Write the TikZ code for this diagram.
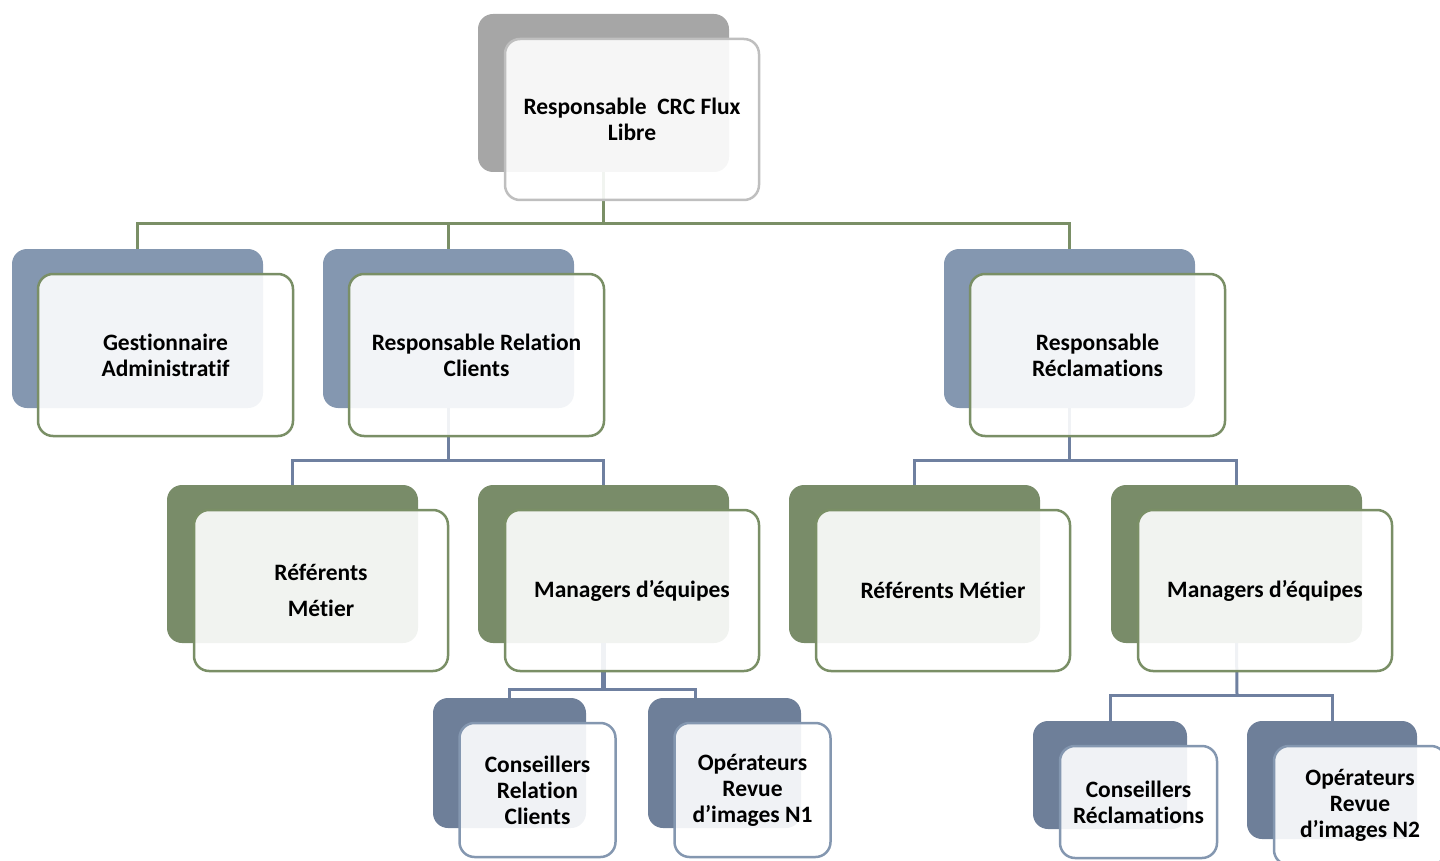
\documentclass[tikz,border=0pt]{standalone}
\usepackage{fontspec}
\setmainfont[Ligatures=NoCommon]{Carlito}
\definecolor{cTop}{HTML}{A6A6A6}
\definecolor{cTopB}{HTML}{BFBFBF}
\definecolor{cL1}{HTML}{8497B0}
\definecolor{cGreen}{HTML}{798C69}
\definecolor{cGreenB}{HTML}{7A8F66}
\definecolor{cL3}{HTML}{6E7F99}
\definecolor{cL3B}{HTML}{8497B0}
\definecolor{cLine}{HTML}{6F80A0}
\tikzset{
  bk/.style={rounded corners=15pt, inner sep=0pt, draw=none},
  fr/.style={rounded corners=15pt, inner sep=0pt, line width=2.5pt, fill=white, fill opacity=0.9, text opacity=1, align=center, font=\fontsize{23.5}{26}\selectfont\bfseries},
  cG/.style={draw=cGreenB, line width=3pt},
  cB/.style={draw=cLine, line width=3pt},
}
\begin{document}
\begin{tikzpicture}[x=1pt,y=-1pt]
\useasboundingbox (0,0) rectangle (1440,861);
\clip (0,0) rectangle (1440,861);
% back boxes
\node[bk, fill=cTop, minimum width=251, minimum height=158] (topB) at (603.5,93) {};
\node[bk, fill=cL1, minimum width=251, minimum height=159] (gaB) at (137.5,328.5) {};
\node[bk, fill=cL1, minimum width=251, minimum height=159] (rrcB) at (448.5,328.5) {};
\node[bk, fill=cL1, minimum width=251, minimum height=159] (rrecB) at (1069.5,328.5) {};
\node[bk, fill=cGreen, minimum width=251, minimum height=158] (refLB) at (292.5,564) {};
\node[bk, fill=cGreen, minimum width=251, minimum height=158] (mgLB) at (603.5,564) {};
\node[bk, fill=cGreen, minimum width=251, minimum height=158] (refRB) at (914.5,564) {};
\node[bk, fill=cGreen, minimum width=251, minimum height=158] (mgRB) at (1236.5,564) {};
\node[bk, fill=cL3, minimum width=153, minimum height=130] (crcB) at (509.5,763) {};
\node[bk, fill=cL3, minimum width=153, minimum height=130] (op1B) at (724.5,763) {};
\node[bk, fill=cL3, minimum width=154, minimum height=108] (crecB) at (1110,775) {};
\node[bk, fill=cL3, minimum width=170, minimum height=118] (op2B) at (1332,780) {};
% connectors
\coordinate (j0) at (603.5,224);
\draw[cG] (topB.south) -- (j0);
\draw[cG] (gaB.north) |- (j0) -| (rrecB.north);
\draw[cG] (rrcB.north) -- (rrcB.north |- j0);
\coordinate (j1) at (448.5,460);
\draw[cB] (rrcB.south) -- (j1);
\draw[cB] (refLB.north) |- (j1) -| (mgLB.north);
\coordinate (j2) at (1069.5,460);
\draw[cB] (rrecB.south) -- (j2);
\draw[cB] (refRB.north) |- (j2) -| (mgRB.north);
\coordinate (j3) at (603.5,689);
\draw[cB, line width=5pt] (mgLB.south) -- (j3);
\draw[cB] (crcB.north) |- (j3) -| ([xshift=-29.5pt]op1B.north);
\coordinate (j4) at (1237,695);
\draw[cB] (mgRB.south) -- (j4);
\draw[cB] (crecB.north) |- (j4) -| (op2B.north);
% front boxes
\node[fr, draw=cTopB, minimum width=254, minimum height=161] (topF) at (632,119.5) {Responsable\ \ CRC Flux\\Libre};
\node[fr, draw=cGreenB, minimum width=255, minimum height=162] (gaF) at (165.5,355) {Gestionnaire\\Administratif};
\node[fr, draw=cGreenB, minimum width=255, minimum height=162] (rrcF) at (476.5,355) {Responsable Relation\\Clients};
\node[fr, draw=cGreenB, minimum width=255, minimum height=162] (rrecF) at (1097.5,355) {Responsable\\Réclamations};
\node[fr, draw=cGreenB, minimum width=254, minimum height=161] (refLF) at (321,590.5) {Référents\\[10pt]Métier};
\node[fr, draw=cGreenB, minimum width=254, minimum height=161] (mgLF) at (632,590.5) {Managers d’équipes};
\node[fr, draw=cGreenB, minimum width=254, minimum height=161] (refRF) at (943,590.5) {Référents Métier};
\node[fr, draw=cGreenB, minimum width=254, minimum height=161] (mgRF) at (1265,590.5) {Managers d’équipes};
\node[fr, draw=cL3B, minimum width=156, minimum height=134] (crcF) at (537.5,790) {Conseillers\\Relation\\Clients};
\node[fr, draw=cL3B, minimum width=156, minimum height=134] (op1F) at (752.5,790) {Opérateurs\\Revue\\d’images N1};
\node[fr, draw=cL3B, minimum width=157, minimum height=112] (crecF) at (1138.5,802) {Conseillers\\Réclamations};
\node[fr, draw=cL3B, minimum width=172, minimum height=119] (op2F) at (1360,805.5) {Opérateurs\\Revue\\d’images N2};
\end{tikzpicture}
\end{document}
